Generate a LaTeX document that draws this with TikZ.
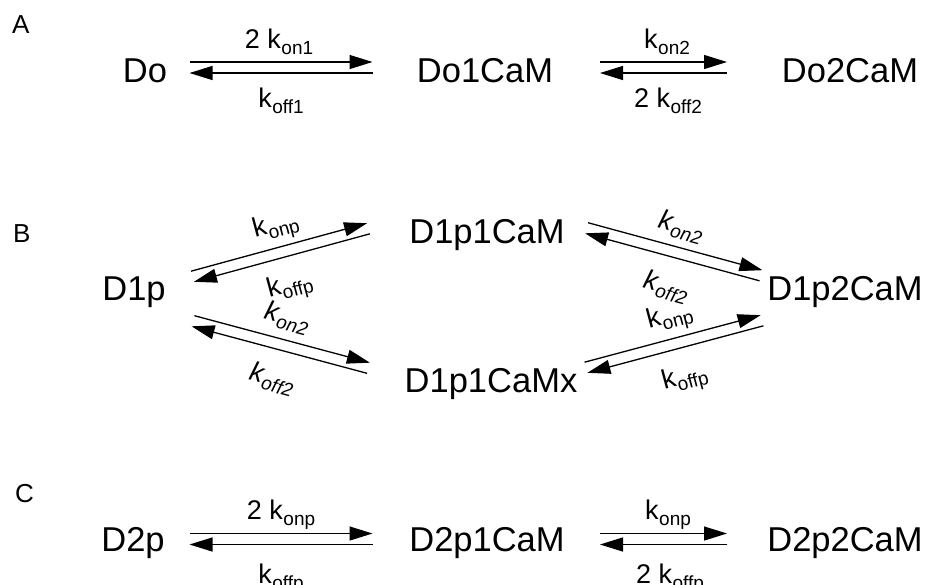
\documentclass[tikz,border=0pt]{standalone}
\usepackage{fontspec}
\setmainfont{Liberation Sans}
\usetikzlibrary{arrows.meta,calc}

% rate constant: k with a lowered, smaller subscript
\newcommand\rate[2][]{#1k\kern0.6pt\raisebox{-6pt}{\fontsize{19}{19}\selectfont #2}}
\newcommand\irate[1]{\rate[\itshape]{#1}}

% a pair of opposite half-arrows between two axis points
\newcommand\eqarrows[2]{%
  \draw[halfarrow] ($(#1)!5.5pt!90:(#2)$) -- ($(#2)!5.5pt!-90:(#1)$);
  \draw[halfarrow] ($(#2)!5.5pt!90:(#1)$) -- ($(#1)!5.5pt!-90:(#2)$);}

\begin{document}
\begin{tikzpicture}[x=1pt,y=-1pt,
  species/.style={font=\fontsize{34.5}{34}\selectfont, anchor=base, inner sep=0pt},
  panel/.style={font=\fontsize{26}{26}\selectfont, anchor=base west, inner sep=0pt},
  ratelbl/.style={font=\fontsize{27}{27}\selectfont, inner sep=0pt},
  ratebase/.style={ratelbl, anchor=base},
  halfarrow/.style={line width=1.3pt, -{Triangle[length=23pt,width=14pt]}}]

\useasboundingbox (0,0) rectangle (936,584);

% ---------- panel A ----------
\node[panel] (lA) at (12,33) {A};
\node[species] (Do)     at (145,82) {Do};
\node[species] (Do1CaM) at (485,82) {Do1CaM};
\node[species] (Do2CaM) at (850,82) {Do2CaM};

\coordinate (a1s) at (189.5,67.5);
\coordinate (a1e) at (372.5,67.5);
\coordinate (a2s) at (600,67.5);
\coordinate (a2e) at (727,67.5);
\eqarrows{a1s}{a1e}
\eqarrows{a2s}{a2e}

\node[ratebase] (ra1f) at (279,48)  {2 \rate{on1}};
\node[ratebase] (ra1b) at (281,107) {\rate{off1}};
\node[ratebase] (ra2f) at (667,48)  {\rate{on2}};
\node[ratebase] (ra2b) at (668,107) {2 \rate{off2}};

% ---------- panel B ----------
\node[panel] (lB) at (13,242) {B};
\node[species] (D1p)      at (134,300) {D1p};
\node[species] (D1p1CaM)  at (487,243) {D1p1CaM};
\node[species] (D1p1CaMx) at (491,392) {D1p1CaMx};
\node[species] (D1p2CaM)  at (845,300) {D1p2CaM};

\coordinate (b1s) at (192.5,276.5);
\coordinate (b1e) at (368.5,228.5);
\coordinate (b2s) at (193,321);
\coordinate (b2e) at (368.5,368);
\coordinate (b3s) at (586.5,228);
\coordinate (b3e) at (761,275.5);
\coordinate (b4s) at (586,367.5);
\coordinate (b4e) at (762,320.5);
\eqarrows{b1s}{b1e}
\eqarrows{b2s}{b2e}
\eqarrows{b3s}{b3e}
\eqarrows{b4s}{b4e}

\node[ratelbl, rotate=15]  (rb1f) at (276,227) {\rate{onp}};
\node[ratelbl, rotate=15]  (rb1b) at (290,287) {\rate{offp}};
\node[ratelbl, rotate=-15] (rb2f) at (287,318) {\irate{on2}};
\node[ratelbl, rotate=-15] (rb2b) at (272,379) {\irate{off2}};
\node[ratelbl, rotate=-15] (rb3f) at (681,227) {\irate{on2}};
\node[ratelbl, rotate=-15] (rb3b) at (666,287) {\irate{off2}};
\node[ratelbl, rotate=15]  (rb4f) at (670,318) {\rate{onp}};
\node[ratelbl, rotate=15]  (rb4b) at (685,379) {\rate{offp}};

% ---------- panel C ----------
\node[panel] (lC) at (15,502) {C};
\node[species] (D2p)     at (133,551) {D2p};
\node[species] (D2p1CaM) at (487,551) {D2p1CaM};
\node[species] (D2p2CaM) at (845,551) {D2p2CaM};

\coordinate (c1s) at (189.5,539);
\coordinate (c1e) at (372.5,539);
\coordinate (c2s) at (600,539);
\coordinate (c2e) at (727,539);
\eqarrows{c1s}{c1e}
\eqarrows{c2s}{c2e}

\node[ratebase] (rc1f) at (281,519) {2 \rate{onp}};
\node[ratebase] (rc1b) at (281,583) {\rate{offp}};
\node[ratebase] (rc2f) at (668,519) {\rate{onp}};
\node[ratebase] (rc2b) at (670,583) {2 \rate{offp}};

\end{tikzpicture}
\end{document}
